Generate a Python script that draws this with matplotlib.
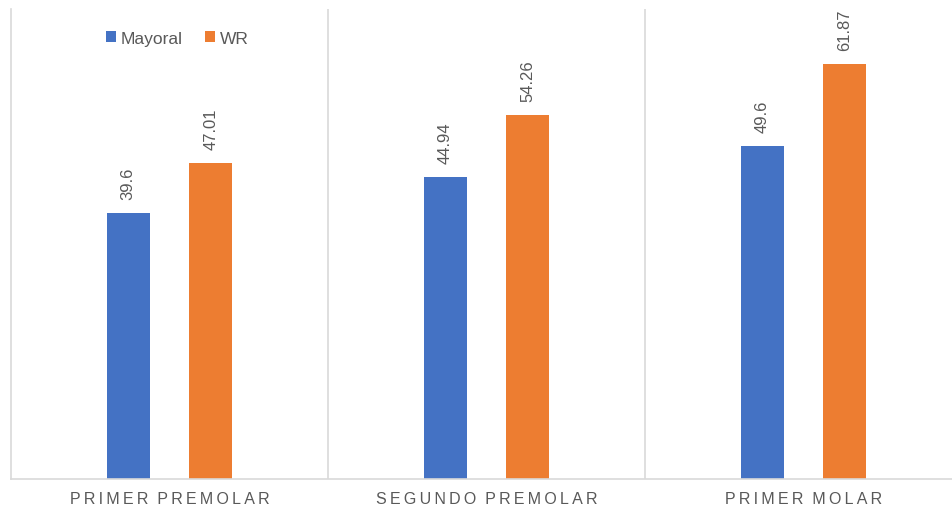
import matplotlib.pyplot as plt
import numpy as np

plt.rcParams['font.family'] = ['Liberation Sans', 'DejaVu Sans']

categories = ['PRIMER PREMOLAR', 'SEGUNDO PREMOLAR', 'PRIMER MOLAR']
mayoral = [39.6, 44.94, 49.6]
wr = [47.01, 54.26, 61.87]

blue = '#4472c4'
orange = '#ed7d31'
grey = '#595959'
line = '#d9d9d9'

def spaced(s):
    # fake letter spacing
    return '  '.join('\u2009'.join(w) for w in s.split(' '))

fig = plt.figure(figsize=(9.52, 5.10), dpi=100)
ax = fig.add_axes([11/952, 30/510, 951/952, 470/510])

x = np.arange(len(categories))
w = 0.136
off = 0.13
b1 = ax.bar(x - off, mayoral, w, color=blue, label='Mayoral')
b2 = ax.bar(x + off, wr, w, color=orange, label='WR')

for bars, vals in ((b1, mayoral), (b2, wr)):
    for b, v in zip(bars, vals):
        ax.annotate(f'{v:g}', (b.get_x() + b.get_width() / 2, v),
                    xytext=(0, 10), textcoords='offset points',
                    rotation=90, ha='center', va='bottom',
                    fontsize=12, color=grey)

ax.set_xlim(-0.5, 2.5)
ax.set_ylim(0, 70)
for xv in (0.5, 1.5):
    ax.axvline(xv, color=line, lw=1.2)

for s in ('top', 'right'):
    ax.spines[s].set_visible(False)
ax.spines['left'].set_color(line)
ax.spines['left'].set_linewidth(1.2)
ax.spines['bottom'].set_color(line)
ax.spines['bottom'].set_linewidth(1.2)

ax.set_yticks([])
ax.set_xticks(x)
ax.set_xticklabels([spaced(c) for c in categories], fontsize=11.5, color=grey)
ax.tick_params(axis='x', length=0, pad=9)

ax.legend(loc='upper left', bbox_to_anchor=(0.083, 0.987), ncol=2, frameon=False,
          fontsize=12.5, labelcolor=grey, handlelength=0.6, handleheight=0.6,
          handletextpad=0.25, columnspacing=1.3)

fig.savefig('out.png', dpi=100)
